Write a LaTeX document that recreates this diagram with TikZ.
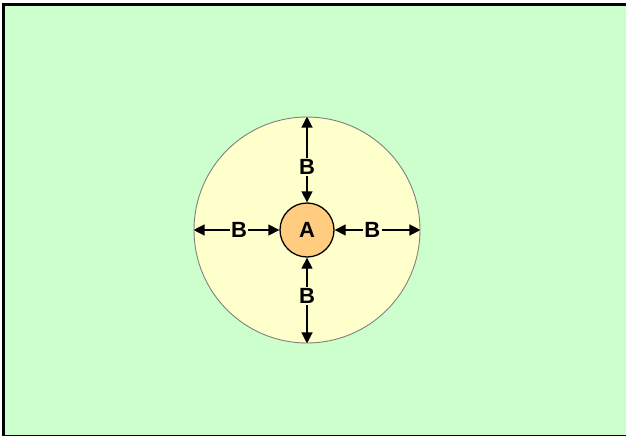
\documentclass[tikz,border=0pt]{standalone}
\usepackage{fontspec}
\setmainfont{Liberation Sans}
\usetikzlibrary{arrows.meta}
\definecolor{bggreen}{HTML}{CCFFCC}
\definecolor{paleyellow}{HTML}{FFFFCC}
\definecolor{peach}{HTML}{FFCC80}
\definecolor{rimgray}{HTML}{808080}
\tikzset{
  arr/.style={line width=1.3pt, {Triangle[length=11pt,width=11pt]}-{Triangle[length=11pt,width=11pt]}},
  lbl/.style={fill=paleyellow, inner sep=1.5pt, font=\fontsize{22}{22}\selectfont\bfseries},
}
\begin{document}
\begin{tikzpicture}[x=1pt,y=-1pt]
\useasboundingbox (0,0) rectangle (626,436);
\begin{scope}
\clip (0,0) rectangle (626,436);
\draw[fill=bggreen, line width=2.6pt] (3.5,4.5) rectangle (640,436);
\end{scope}
\node[circle, draw=rimgray, fill=paleyellow, line width=0.9pt, minimum size=226pt, inner sep=0pt] (outer) at (307,230) {};
\node[circle, draw=black, fill=peach, line width=1.3pt, minimum size=54pt, inner sep=0pt, font=\fontsize{22}{22}\selectfont\bfseries] (inner) at (307,230) {A};
\draw[arr] (inner.north) -- node[lbl, pos=0.41]{B} (outer.north);
\draw[arr] (inner.south) -- node[lbl, pos=0.45]{B} (outer.south);
\draw[arr] (inner.west) -- node[lbl, pos=0.47]{B} (outer.west);
\draw[arr] (inner.east) -- node[lbl, pos=0.44]{B} (outer.east);
\end{tikzpicture}
\end{document}
